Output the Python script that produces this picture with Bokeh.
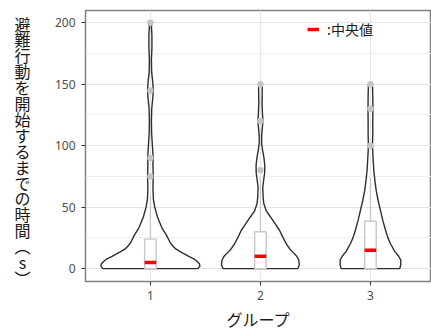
from bokeh.plotting import figure
from bokeh.layouts import row
from bokeh.models import (Range1d, FixedTicker, Legend, LegendItem, ColumnDataSource)
from bokeh.core.properties import value
from bokeh.embed import file_html
from bokeh.resources import INLINE

# ---------------- data ----------------
groups = [1, 2, 3]
group_labels = ["1", "2", "3"]

# violin density profiles (relative density at given time values)
g1_y = [0, 2, 4, 6, 8, 10, 12, 14, 16, 19, 22, 27, 33, 38, 42, 50, 56, 65, 75, 85, 90,
        100, 110, 120, 130, 140, 146, 152, 160, 170, 180, 190, 197, 200]
g1_d = [47, 49, 48.5, 46, 43, 38, 33.5, 29, 25, 21.5, 19, 16, 11.5, 9, 7, 4.3, 3, 2.5, 2.8, 2.5, 2.7,
        2.0, 1.2, 1.0, 1.3, 2.5, 2.8, 2.3, 1.2, 1.0, 1.5, 1.5, 1.0, 1.8]
g2_y = [0, 3, 7, 10, 13, 16, 20, 25, 31, 36, 42, 47, 53, 58, 66, 72, 78, 84, 90, 96,
        102, 108, 114, 120, 126, 135, 145, 150]
g2_d = [37, 38.5, 38, 36, 32.5, 29, 25.7, 22.5, 19, 15, 10, 5.7, 3.3, 2.7, 2.3, 3.2, 4.2, 4.3, 3.5, 2.2,
        1.2, 1.2, 1.8, 2.5, 2.0, 1.6, 1.8, 1.8]
g3_y = [0, 3, 7, 10, 14, 20, 25, 31, 39, 47, 55, 63, 71, 80, 90, 100, 110, 120, 130, 140, 150]
g3_d = [29, 30, 30, 28, 24, 20, 17.3, 15, 12.3, 10, 7.7, 5.8, 4.5, 3.3, 2.6, 2.0, 2.3, 2.3, 2.4, 2.3, 2.0]

# box plot statistics
q1 = [0, 0, 0]
median = [5, 10, 15]
q3 = [24, 30, 38.5]
whisker_hi = [59, 75, 74]

# outliers
out_group = [1, 1, 1, 1, 2, 2, 2, 3, 3, 3]
out_value = [200, 145, 90, 75, 150, 120, 80, 150, 130, 100]

y_ticks = [0, 50, 100, 150, 200]
x_title = "グループ"
y_title = "避難行動を開始するまでの時間︵s︶"
legend_label = ":中央値"

# ---------------- layout constants ----------------
W, H = 431, 334
TW = 40                 # width of the y-title strip
TOP, BOTTOM = 10, 53    # frame borders (row aligns both frames)
FRAME_LEFT = 85

# ---------------- y-title strip (upright vertical text) ----------------
t = figure(width=TW, height=H, output_backend="svg", toolbar_location=None,
           x_range=Range1d(0, TW), y_range=Range1d(H - BOTTOM, TOP),
           x_axis_type=None, y_axis_type=None,
           min_border_left=0, min_border_right=0, min_border_top=TOP, min_border_bottom=BOTTOM)
t.outline_line_color = None
t.xgrid.visible = False
t.ygrid.visible = False
chars = list(y_title)
step = 15.9
src = ColumnDataSource(dict(x=[22] * len(chars), y=[23 + step * i for i in range(len(chars))],
                            text=chars))
t.text(x="x", y="y", text="text", source=src, text_font=value("Noto Sans CJK JP"),
       text_font_size="16px", text_color="#1a1a1a", text_align="center", text_baseline="middle")

# ---------------- main figure ----------------
p = figure(width=W - TW, height=H, output_backend="svg", toolbar_location=None,
           x_range=Range1d(0.41, 3.555), y_range=Range1d(-10.5, 210),
           min_border_left=FRAME_LEFT - TW, min_border_top=TOP, min_border_right=0,
           min_border_bottom=BOTTOM)
p.background_fill_color = "white"
p.border_fill_color = "white"
p.outline_line_color = "#808080"
p.outline_line_width = 1.5

# grids
p.ygrid.ticker = FixedTicker(ticks=y_ticks, minor_ticks=[25, 75, 125, 175])
p.ygrid.grid_line_color = "#e3e3e3"
p.ygrid.grid_line_width = 1.2
p.ygrid.minor_grid_line_color = "#efefef"
p.ygrid.minor_grid_line_width = 1
p.xgrid.ticker = FixedTicker(ticks=groups)
p.xgrid.grid_line_color = "#e6e6e6"
p.xgrid.grid_line_width = 1.2

# axes
for ax in (p.xaxis, p.yaxis):
    ax.axis_line_color = None
    ax.major_tick_line_color = "#333333"
    ax.major_tick_in = 0
    ax.major_tick_out = 4
    ax.minor_tick_line_color = None
    ax.major_label_text_font = "Noto Sans"
    ax.major_label_text_font_size = "12px"
    ax.major_label_text_color = "#4d4d4d"

p.xaxis.ticker = FixedTicker(ticks=groups)
p.xaxis.major_label_overrides = {g: l for g, l in zip(groups, group_labels)}
p.xaxis.major_label_standoff = 5
p.xaxis.axis_label = x_title
p.xaxis.axis_label_text_font = "Noto Sans CJK JP"
p.xaxis.axis_label_text_font_size = "16px"
p.xaxis.axis_label_text_font_style = "normal"
p.xaxis.axis_label_text_color = "#1a1a1a"
p.xaxis.axis_label_standoff = 4
p.yaxis.ticker = FixedTicker(ticks=y_ticks)
p.yaxis.major_label_standoff = 6

# violins
profiles = [(g1_y, g1_d), (g2_y, g2_d), (g3_y, g3_d)]
dmax = max(max(d) for _, d in profiles)
half_max = 0.45
xs, ys = [], []
for g, (yy, dd) in zip(groups, profiles):
    left = [g - d / dmax * half_max for d in dd]
    right = [g + d / dmax * half_max for d in dd]
    xs.append(left + right[::-1])
    ys.append(list(yy) + list(yy)[::-1])
p.patches(xs=xs, ys=ys, fill_color=None, line_color="#2e2e2e", line_width=1.4)

# whiskers
p.segment(x0=groups, y0=q3, x1=groups, y1=whisker_hi, line_color="#c8c8c8", line_width=1.3)
# boxes
bw = 0.105
p.quad(left=[g - bw / 2 for g in groups], right=[g + bw / 2 for g in groups],
       bottom=q1, top=q3, fill_color="white", line_color="#c8c8c8", line_width=1.4)
# medians
med = p.segment(x0=[g - bw / 2 for g in groups], y0=median, x1=[g + bw / 2 for g in groups],
                y1=median, line_color="#ff0000", line_width=3.5)
# outliers
p.scatter(x=out_group, y=out_value, size=6.5, fill_color="#c4c4c4", line_color=None)

# legend
legend = Legend(items=[LegendItem(label=legend_label, renderers=[med])],
                location=(222, 242))
legend.glyph_width = 12
legend.glyph_height = 14
legend.label_standoff = 8
legend.padding = 0
legend.margin = 0
legend.border_line_color = None
legend.background_fill_alpha = 0
legend.label_text_font = "Noto Sans CJK JP"
legend.label_text_font_size = "14px"
legend.label_text_color = "#1a1a1a"
p.add_layout(legend, "center")

layout = row(t, p, spacing=0)
open("out.html", "w").write(file_html(layout, INLINE))
